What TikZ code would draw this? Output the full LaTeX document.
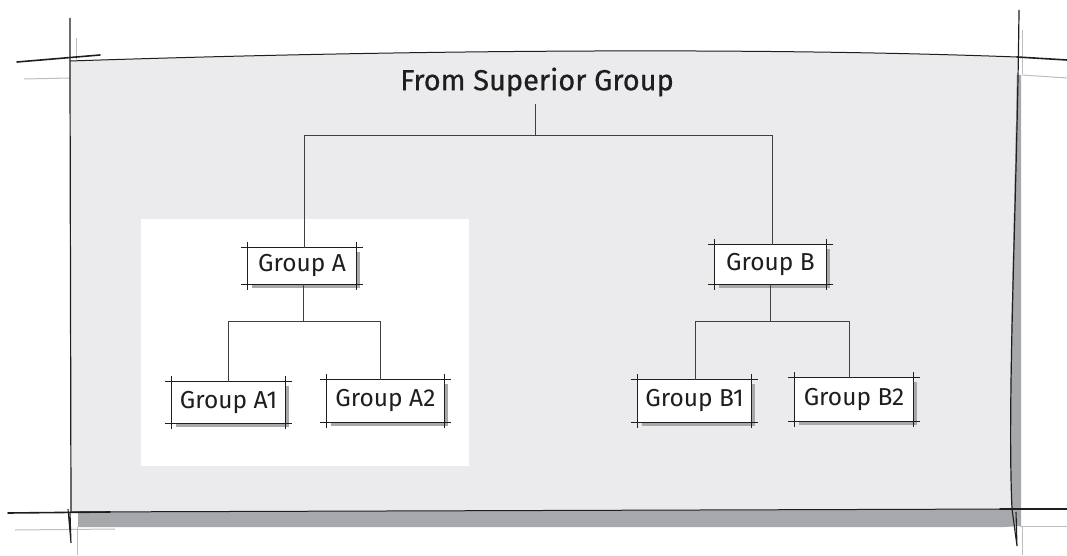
\documentclass[tikz,border=0pt]{standalone}
\usepackage{fontspec}
\setmainfont{Fira Sans}
\newfontfamily\titlefont{Fira Sans}[FakeBold=0.6]
\usetikzlibrary{shadows,calc}
\definecolor{panel}{HTML}{EBEBED}
\definecolor{panelshadow}{HTML}{A7A8AB}
\definecolor{faint}{HTML}{BDBDBD}
\definecolor{ink}{HTML}{1E1E1E}
\tikzset{
  gbox/.style={fill=white, draw=none, inner sep=0pt,
    font=\fontsize{24.5}{28}\selectfont, text=ink,
    drop shadow={shadow xshift=4pt, shadow yshift=-4pt, fill=panelshadow, opacity=1}},
  edge/.style={draw=ink, line width=1.2pt},
  link/.style={draw=ink!85, line width=0.9pt},
  sketch/.style={draw=ink, line width=1.6pt, line cap=round},
  ghost/.style={draw=faint, line width=1pt}
}
% rough frame around a box: four strokes that run past the corners
\newcommand\roughframe[1]{%
  \draw[edge] ([xshift=-7pt]#1.north west) -- ([xshift=7pt]#1.north east);
  \draw[edge] ([xshift=-7pt]#1.south west) -- ([xshift=7pt]#1.south east);
  \draw[edge] ([yshift=6pt]#1.north west) -- ([yshift=-6pt]#1.south west);
  \draw[edge] ([yshift=6pt]#1.north east) -- ([yshift=-6pt]#1.south east);
}
\begin{document}
\begin{tikzpicture}[x=1pt,y=-1pt]
\useasboundingbox (0,0) rectangle (1067,556);
% panel shadow
\fill[panelshadow] (1013,75) -- (1021,75) -- (1021,526) -- (1005,527) -- (78,527) -- (78,512) -- cycle;
% panel
\fill[panel] (70,61) .. controls (400,50) and (750,47) .. (1017,57)
  .. controls (1015,200) and (1007,400) .. (1012,509) -- (71,512) -- cycle;
% inner white area
\fill[white] (141,219) rectangle (469,466);
% faint guide strokes at the corners
\draw[ghost] (24,79) -- (70,78);
\draw[ghost] (76,38) -- (76,60);
\draw[ghost] (1022,75) -- (1067,78);
\draw[ghost] (1022,30) -- (1022,74);
\draw[ghost] (15,530) -- (115,529);
\draw[ghost] (77,527) -- (77,555);
\draw[ghost] (1020,526) -- (1067,526);
\draw[ghost] (1022,526) -- (1022,555);
% panel outline strokes
\draw[ink, line width=1pt] (70,61) .. controls (400,50) and (750,47) .. (1017,57);
\draw[ink, line width=1pt] (71,512) -- (1012,509);
\draw[sketch] (17,62) -- (100,55);
\draw[sketch] (1017,57) -- (1067,60);
\draw[ink, line width=1.2pt] (70,18) -- (70,70) -- (71,512);
\draw[ink, line width=1.2pt] (1019,10) .. controls (1017,200) and (1007,400) .. (1012,509);
\draw[sketch] (8,513) -- (110,512);
\draw[sketch] (1000,509) -- (1067,509);
\draw[ink, line width=1.1pt] (68,509) -- (71,543) -- (70,512);
\draw[ink, line width=1.1pt] (1012,509) -- (1017,546) -- (1016,512);

% title and groups
\node[font=\titlefont\fontsize{29}{32}\selectfont, text=ink] (top) at (537,82) {From Superior Group};
\node[gbox, minimum width=108pt, minimum height=36pt] (ga) at (302,266) {Group A};
\node[gbox, minimum width=111pt, minimum height=39pt] (gb) at (770.5,264.5) {Group B};
\node[gbox, minimum width=113pt, minimum height=41pt] (ga1) at (228.5,402.5) {Group A1};
\node[gbox, minimum width=117pt, minimum height=42pt] (ga2) at (385.5,401) {Group A2};
\node[gbox, minimum width=113pt, minimum height=42pt] (gb1) at (694.5,401) {Group B1};
\node[gbox, minimum width=118pt, minimum height=43pt] (gb2) at (854,399.5) {Group B2};
\foreach \n in {ga,gb,ga1,ga2,gb1,gb2} {\roughframe{\n}}

% tree connectors
\coordinate (j0) at (535,135);
\coordinate (ja) at (303,321);
\coordinate (jb) at (770,321);
\draw[link] ([yshift=-4pt]j0 |- top.south) -- (j0);
\draw[link] ([xshift=2pt]ga.north) -- ([xshift=2pt]ga.north |- j0) -- ([xshift=2pt]gb.north |- j0) -- ([xshift=2pt]gb.north);
\draw[link] (ja |- ga.south) -- (ja);
\draw[link] (ga1.north) -- (ga1.north |- ja) -- ([xshift=-5pt]ga2.north |- ja) -- ([xshift=-5pt]ga2.north);
\draw[link] (jb |- gb.south) -- (jb);
\draw[link] ([xshift=1pt]gb1.north) -- ([xshift=1pt]gb1.north |- jb) -- ([xshift=-5pt]gb2.north |- jb) -- ([xshift=-5pt]gb2.north);
\end{tikzpicture}
\end{document}
